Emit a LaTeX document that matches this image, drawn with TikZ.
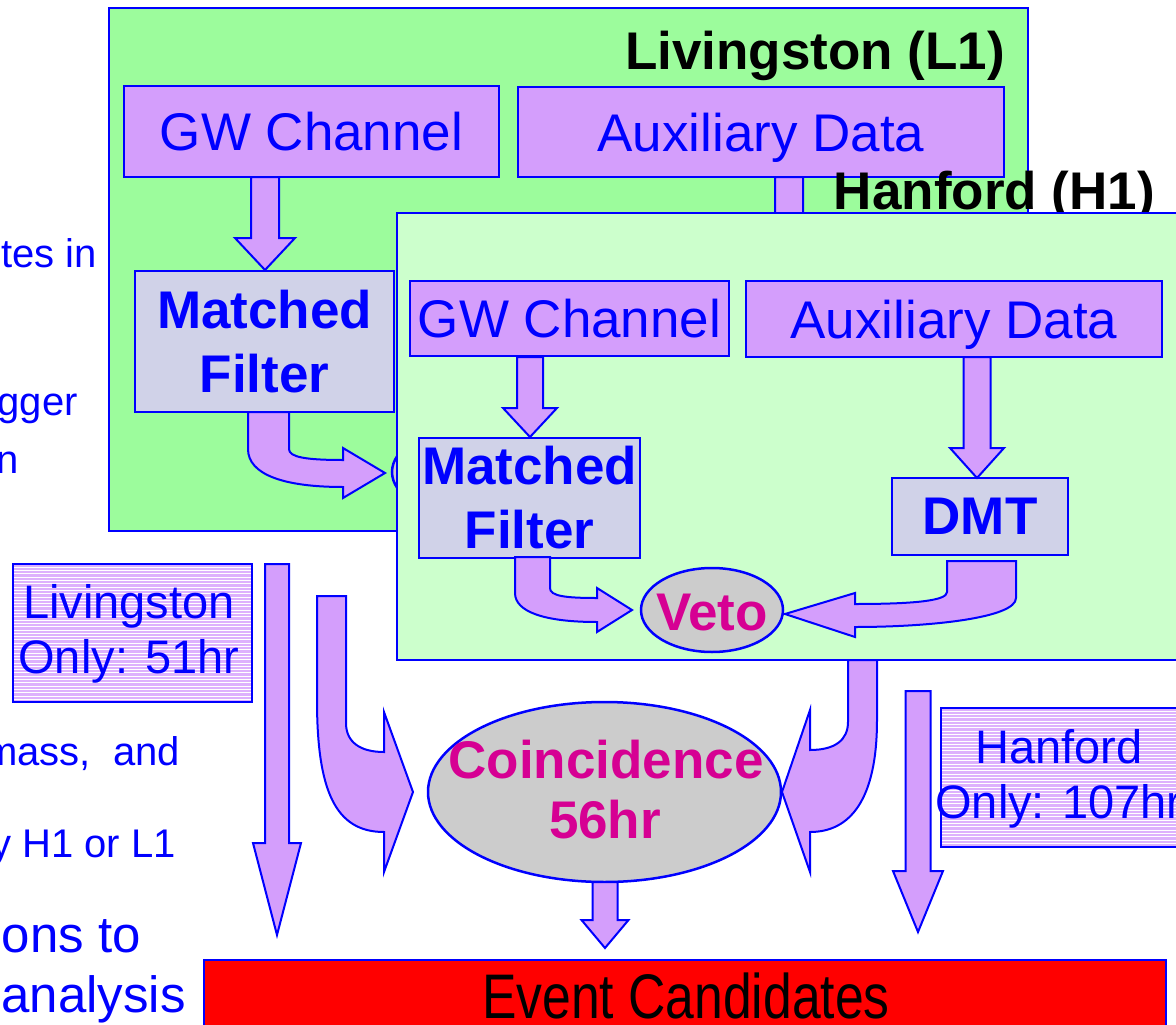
\documentclass[tikz,border=0pt]{standalone}
\usepackage{fontspec}
\setmainfont{Liberation Sans}
\usetikzlibrary{shapes.geometric,calc}
\definecolor{lgreen}{RGB}{156,252,156}
\definecolor{hgreen}{RGB}{204,255,204}
\definecolor{lav}{RGB}{212,158,252}
\definecolor{mfgray}{RGB}{208,210,232}
\definecolor{ellgray}{RGB}{204,204,204}
\definecolor{mag}{RGB}{214,0,147}
\definecolor{bblue}{RGB}{0,0,255}
\newcommand\fatdown[6]{\filldraw[fat] ({#1-#4},#2) -- ({#1+#4},#2) -- ({#1+#4},{#3-#6}) -- ({#1+#5},{#3-#6}) -- (#1,#3) -- ({#1-#5},{#3-#6}) -- ({#1-#4},{#3-#6}) -- cycle;}
\begin{document}
\begin{tikzpicture}[x=1pt,y=-1pt,
  frame/.style={draw=bblue,line width=2.5pt,inner sep=0pt,outer sep=0pt,rectangle},
  chan/.style={frame,fill=lav,text=bblue,font=\fontsize{53}{61}\selectfont,text height=38pt,text depth=0pt},
  proc/.style={frame,fill=mfgray,text=bblue,font=\bfseries\fontsize{53}{64}\selectfont,align=center},
  ell/.style={frame,ellipse,fill=ellgray},
  elltext/.style={text=mag,font=\bfseries\fontsize{53}{61}\selectfont,inner sep=0pt,anchor=base},
  fat/.style={draw=bblue,line width=2pt,fill=lav,line join=miter},
  sitetitle/.style={font=\bfseries\fontsize{53}{61}\selectfont,inner sep=0pt,anchor=base east},
  side/.style={text=bblue,font=\fontsize{40}{48}\selectfont,inner sep=0pt,anchor=base east},
  sidebig/.style={text=bblue,font=\fontsize{51}{60}\selectfont,inner sep=0pt,anchor=base east},
  striped/.style={frame,fill=lav!80,path picture={\foreach \k in {1,...,45}{\draw[white,line width=0.9pt] ([yshift=-\k*3.3pt]path picture bounding box.north west) -- ([yshift=-\k*3.3pt]path picture bounding box.north east);}}},
  onlytext/.style={text=bblue,font=\fontsize{47}{55}\selectfont,align=center,inner sep=0pt}
]
\useasboundingbox (0,0) rectangle (1176,1025);
\fill[white] (0,0) rectangle (1176,1025);

% left side text fragments
\node[side] (t1) at (97,267) {tes in};
\node[side] (t2) at (78,415) {gger};
\node[side] (t3) at (19,473) {n};
\node[side] (t4) at (180,765) {mass,~ and};
\node[side] (t5) at (176,857) {by H1 or L1};
\node[sidebig] (t6) at (141,952) {ons to};
\node[sidebig] (t7) at (186,1012) {analysis};

% Livingston site
\node[frame,fill=lgreen,minimum width=919pt,minimum height=523pt] (L1) at (568.5,269.5) {};
\node[sitetitle] (L1t) at (1005,70) {Livingston (L1)};
\node[chan,minimum width=375pt,minimum height=91pt] (gwL) at (311.5,131.5) {GW Channel};
\node[chan,minimum width=486pt,minimum height=90pt] (auxL) at (761,132) {Auxiliary Data};
\node[proc,minimum width=259pt,minimum height=141pt] (mfL) at (264.5,341.5) {Matched\\Filter};
\fatdown{265}{177}{270}{14}{30}{32}
\fatdown{789}{177}{300}{14}{28}{30}
\node[ell,minimum width=140pt,minimum height=84pt] (vetoL) at (462,472) {};
\filldraw[fat] (248,412) -- (289,412) -- (289,449) .. controls (289,457) and (305,460) .. (343,460) -- (343,448) -- (385,473) -- (343,498) -- (343,487) .. controls (285,487) and (248,475) .. (248,449) -- cycle;

% Hanford site
\node[sitetitle] (H1t) at (1155,209) {Hanford (H1)};
\node[frame,fill=hgreen,minimum width=800pt,minimum height=447pt] (H1) at (797,436.5) {};
\node[chan,minimum width=319pt,minimum height=75pt] (gwH) at (569.5,318.5) {GW Channel};
\node[chan,minimum width=416pt,minimum height=76pt] (auxH) at (954,319) {Auxiliary Data};
\node[proc,minimum width=221pt,minimum height=120pt] (mfH) at (529.5,498) {Matched\\Filter};
\node[proc,minimum width=176pt,minimum height=77pt] (dmt) at (980,516.5) {DMT};
\node[ell,minimum width=142pt,minimum height=84pt] (veto) at (712,610) {};
\node[elltext] (vetot) at (712,630) {Veto};
\fatdown{530}{357}{437}{13}{27}{29}
\fatdown{977}{357}{478}{13.5}{27}{30}
\filldraw[fat] (515,557) -- (550,557) -- (550,588) .. controls (550,596) and (565,598) .. (597,598) -- (597,588) -- (632,610) -- (597,632) -- (597,622) .. controls (545,622) and (515,612) .. (515,593) -- cycle;
\filldraw[fat] (947,561) -- (1016,561) -- (1016,598) .. controls (1016,618) and (930,627) .. (855,627) -- (855,637) -- (785,614) -- (855,593) -- (855,604) .. controls (920,604) and (947,600) .. (947,592) -- cycle;

% combination
\node[striped,minimum width=239pt,minimum height=138pt] (Lonly) at (132.5,633) {};
\node[onlytext] (Lonlyt) at (129,634) {Livingston\\Only: 51hr};
\node[striped,minimum width=249pt,minimum height=139pt] (Honly) at (1065.5,777.5) {};
\node[onlytext] (Honlyt) at (1059,779) {Hanford\\Only: 107hr};
\node[ell,minimum width=353pt,minimum height=180pt] (coin) at (604.5,792) {};
\node[elltext] (coint1) at (606,778) {Coincidence};
\node[elltext] (coint2) at (605,838) {56hr};
\fatdown{277}{564}{935}{12}{24}{92}
\fatdown{918}{691}{932}{12.5}{25}{61}
\fatdown{605}{882}{948}{12.5}{23.5}{28}
\filldraw[fat] (317,596) -- (346,596) -- (346,723) .. controls (346,742) and (360,752) .. (384,752) -- (384,712) -- (413,792) -- (384,872) -- (384,832) .. controls (335,832) and (317,790) .. (317,700) -- cycle;
\filldraw[fat] (848,660) -- (877,660) -- (877,720) .. controls (877,800) and (850,832) .. (810,832) -- (810,872) -- (782,792) -- (810,710) -- (810,750) .. controls (835,750) and (848,740) .. (848,722) -- cycle;

\node[frame,line width=1.5pt,fill=red,minimum width=962pt,minimum height=90pt,anchor=north west] (ev) at (204,960) {};
\node[font=\fontsize{63}{70}\selectfont,inner sep=0pt,anchor=base] (evt) at (686,1018) {\scalebox{0.82}[1]{Event Candidates}};
\end{tikzpicture}
\end{document}
